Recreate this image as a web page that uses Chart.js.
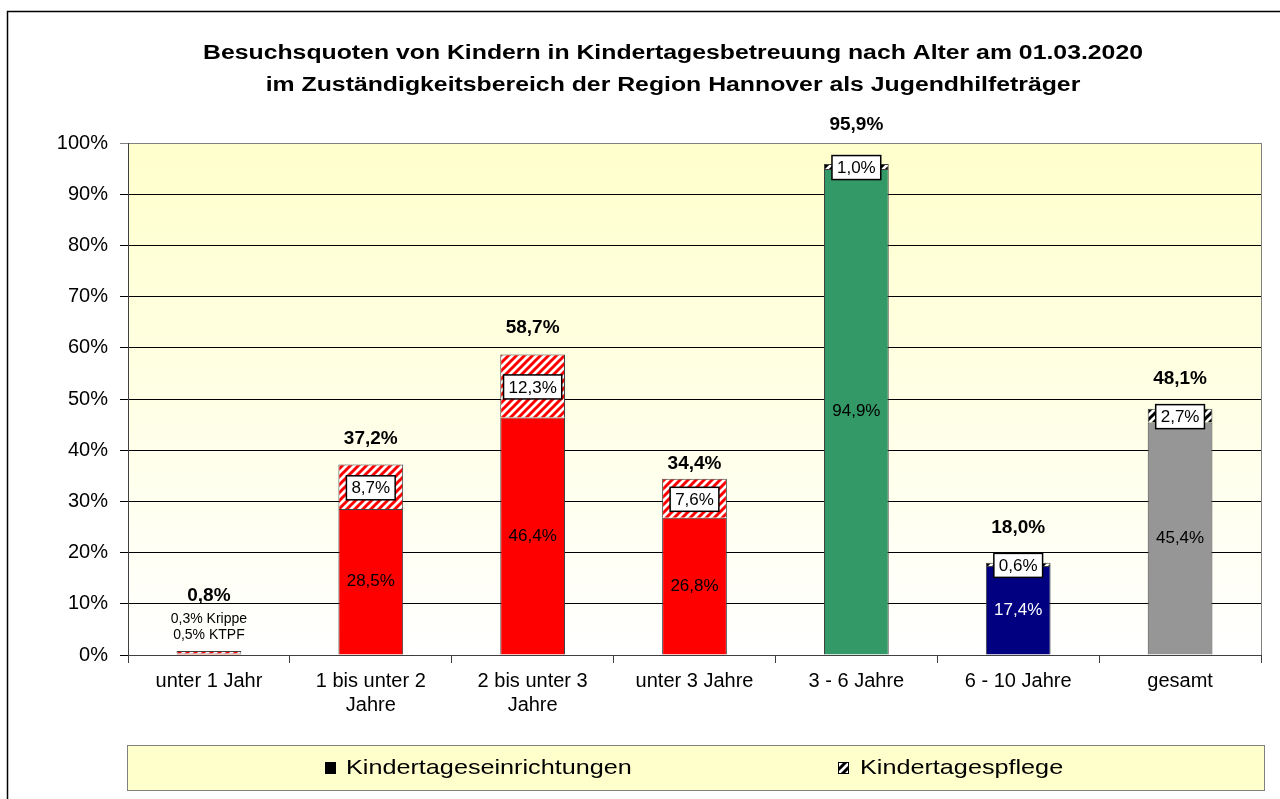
<!DOCTYPE html>
<html>
<head>
<meta charset="utf-8">
<script src="https://cdn.jsdelivr.net/npm/chart.js@4"></script>
<style>
  body { margin: 0; background: #fff; }
  canvas { display: block; }
</style>
</head>
<body>
<canvas id="chart" width="1280" height="799"></canvas>
<script>
const categories = ['unter 1 Jahr', ['1 bis unter 2', 'Jahre'], ['2 bis unter 3', 'Jahre'], 'unter 3 Jahre', '3 - 6 Jahre', '6 - 10 Jahre', 'gesamt'];
const einrichtungen = [0.3, 28.5, 46.4, 26.8, 94.9, 17.4, 45.4];
const pflege = [0.5, 8.7, 12.3, 7.6, 1.0, 0.6, 2.7];
const gesamt = [0.8, 37.2, 58.7, 34.4, 95.9, 18.0, 48.1];
const yTicks = [0, 10, 20, 30, 40, 50, 60, 70, 80, 90, 100];
const ersteNotiz = ['0,3% Krippe', '0,5% KTPF'];

const barColors = ['#ff0000', '#ff0000', '#ff0000', '#ff0000', '#339966', '#000080', '#969696'];
const hatchColors = ['#ff0000', '#ff0000', '#ff0000', '#ff0000', '#000000', '#000000', '#000000'];
const totalOffset = [55, 26, 27, 15, 39, 35, 30];

function hatch(color) {
  const c = document.createElement('canvas');
  c.width = 8; c.height = 8;
  const g = c.getContext('2d');
  g.fillStyle = '#fff';
  g.fillRect(0, 0, 8, 8);
  g.strokeStyle = color;
  g.lineWidth = 3;
  g.beginPath();
  g.moveTo(-2, 10); g.lineTo(10, -2);
  g.moveTo(-6, 6); g.lineTo(6, -6);
  g.moveTo(2, 14); g.lineTo(14, 2);
  g.stroke();
  return g.createPattern(c, 'repeat');
}

const fmt = v => v.toFixed(1).replace('.', ',') + '%';
const FONT = '"Liberation Sans", Arial, sans-serif';

// text drawn a bit wider, like the original export
function wideText(ctx, text, x, y, sx, align) {
  ctx.save();
  ctx.translate(x, y);
  ctx.scale(sx, 1);
  ctx.textAlign = align;
  ctx.fillText(text, 0, 0);
  ctx.restore();
}

const background = {
  id: 'background',
  beforeDraw(chart) {
    const ctx = chart.ctx;
    const a = chart.chartArea;
    ctx.save();
    ctx.fillStyle = '#fff';
    ctx.fillRect(0, 0, chart.width, chart.height);
    ctx.strokeStyle = '#000';
    ctx.lineWidth = 1.5;
    ctx.strokeRect(7.5, 11.5, 1300, 1000);
    const grad = ctx.createLinearGradient(0, a.top, 0, a.bottom);
    grad.addColorStop(0, '#ffffcc');
    grad.addColorStop(1, '#ffffff');
    ctx.fillStyle = grad;
    ctx.fillRect(a.left, a.top, a.right - a.left, a.bottom - a.top);
    ctx.strokeStyle = '#808080';
    ctx.lineWidth = 1;
    ctx.strokeRect(a.left + 0.5, a.top + 0.5, a.right - a.left, a.bottom - a.top);

    // title
    ctx.fillStyle = '#000';
    ctx.font = 'bold 20px ' + FONT;
    ctx.textBaseline = 'middle';
    const t1 = 'Besuchsquoten von Kindern in Kindertagesbetreuung nach Alter am 01.03.2020';
    const t2 = 'im Zuständigkeitsbereich der Region Hannover als Jugendhilfeträger';
    const sx = 940 / ctx.measureText(t1).width;
    wideText(ctx, t1, 673, 53, sx, 'center');
    wideText(ctx, t2, 673, 85, sx, 'center');

    // legend
    ctx.fillStyle = '#ffffcc';
    ctx.fillRect(127, 745, 1137, 45);
    ctx.strokeStyle = '#808080';
    ctx.strokeRect(127.5, 745.5, 1137, 45);
    ctx.fillStyle = '#000';
    ctx.fillRect(325, 762, 11, 12);
    ctx.fillStyle = hatch('#000');
    ctx.fillRect(838, 762, 11, 12);
    ctx.strokeStyle = '#000';
    ctx.strokeRect(838.5, 762.5, 10, 11);
    ctx.fillStyle = '#000';
    ctx.font = '21px ' + FONT;
    wideText(ctx, 'Kindertageseinrichtungen', 346, 768, 1.2, 'left');
    wideText(ctx, 'Kindertagespflege', 860, 768, 1.2, 'left');
    ctx.restore();
  }
};

const labels = {
  id: 'labels',
  afterDatasetsDraw(chart) {
    const ctx = chart.ctx;
    const m0 = chart.getDatasetMeta(0).data;
    const m1 = chart.getDatasetMeta(1).data;
    ctx.save();
    ctx.textAlign = 'center';
    ctx.textBaseline = 'middle';
    for (let i = 0; i < gesamt.length; i++) {
      const b0 = m0[i], b1 = m1[i];
      if (i === 0) {
        ctx.font = '14px ' + FONT;
        ctx.fillStyle = '#000';
        ctx.fillText(ersteNotiz[0], b1.x, b1.y - 32);
        ctx.fillText(ersteNotiz[1], b1.x, b1.y - 16);
      } else {
        ctx.font = '17px ' + FONT;
        ctx.fillStyle = barColors[i] === '#000080' ? '#fff' : '#000';
        ctx.fillText(fmt(einrichtungen[i]), b0.x, (b0.y + b0.base) / 2);
        const t = fmt(pflege[i]);
        const w = ctx.measureText(t).width + 10;
        const cy = (b1.y + b1.base) / 2 + 1;
        ctx.fillStyle = '#fff';
        ctx.fillRect(b1.x - w / 2, cy - 12, w, 24);
        ctx.strokeStyle = '#000';
        ctx.lineWidth = 1.5;
        ctx.strokeRect(b1.x - w / 2, cy - 12, w, 24);
        ctx.fillStyle = '#000';
        ctx.fillText(t, b1.x, cy + 1);
      }
      ctx.font = 'bold 19px ' + FONT;
      ctx.fillStyle = '#000';
      ctx.fillText(fmt(gesamt[i]), b1.x, b1.y - totalOffset[i]);
    }
    ctx.restore();
  }
};

new Chart(document.getElementById('chart'), {
  type: 'bar',
  data: {
    labels: categories,
    datasets: [
      {
        label: 'Kindertageseinrichtungen',
        data: einrichtungen,
        backgroundColor: barColors,
        borderColor: '#404040',
        borderWidth: 1,
        barPercentage: 0.4,
        categoryPercentage: 1
      },
      {
        label: 'Kindertagespflege',
        data: pflege,
        backgroundColor: hatchColors.map(hatch),
        borderColor: '#404040',
        borderWidth: 1,
        barPercentage: 0.4,
        categoryPercentage: 1
      }
    ]
  },
  options: {
    responsive: false,
    animation: false,
    layout: { padding: { top: 143, left: 0, right: 19, bottom: 0 } },
    plugins: { legend: { display: false }, tooltip: { enabled: false } },
    scales: {
      x: {
        stacked: true,
        afterFit: s => { s.height = 144; },
        grid: { offset: true, drawOnChartArea: false, tickLength: 8, color: '#404040' },
        border: { color: '#404040' },
        ticks: { color: '#000', font: { family: FONT, size: 20, lineHeight: 1.2 }, padding: 6, maxRotation: 0, autoSkip: false }
      },
      y: {
        stacked: true,
        min: 0,
        max: 100,
        afterFit: s => { s.width = 128; },
        afterBuildTicks: s => { s.ticks = yTicks.map(v => ({ value: v })); },
        grid: {
          color: c => (c.tick && c.tick.value === 100 ? '#808080' : '#000'),
          tickLength: 8
        },
        border: { color: '#404040' },
        ticks: { color: '#000', font: { family: FONT, size: 20 }, padding: 12, callback: v => v + '%' }
      }
    }
  },
  plugins: [background, labels]
});
</script>
</body>
</html>
